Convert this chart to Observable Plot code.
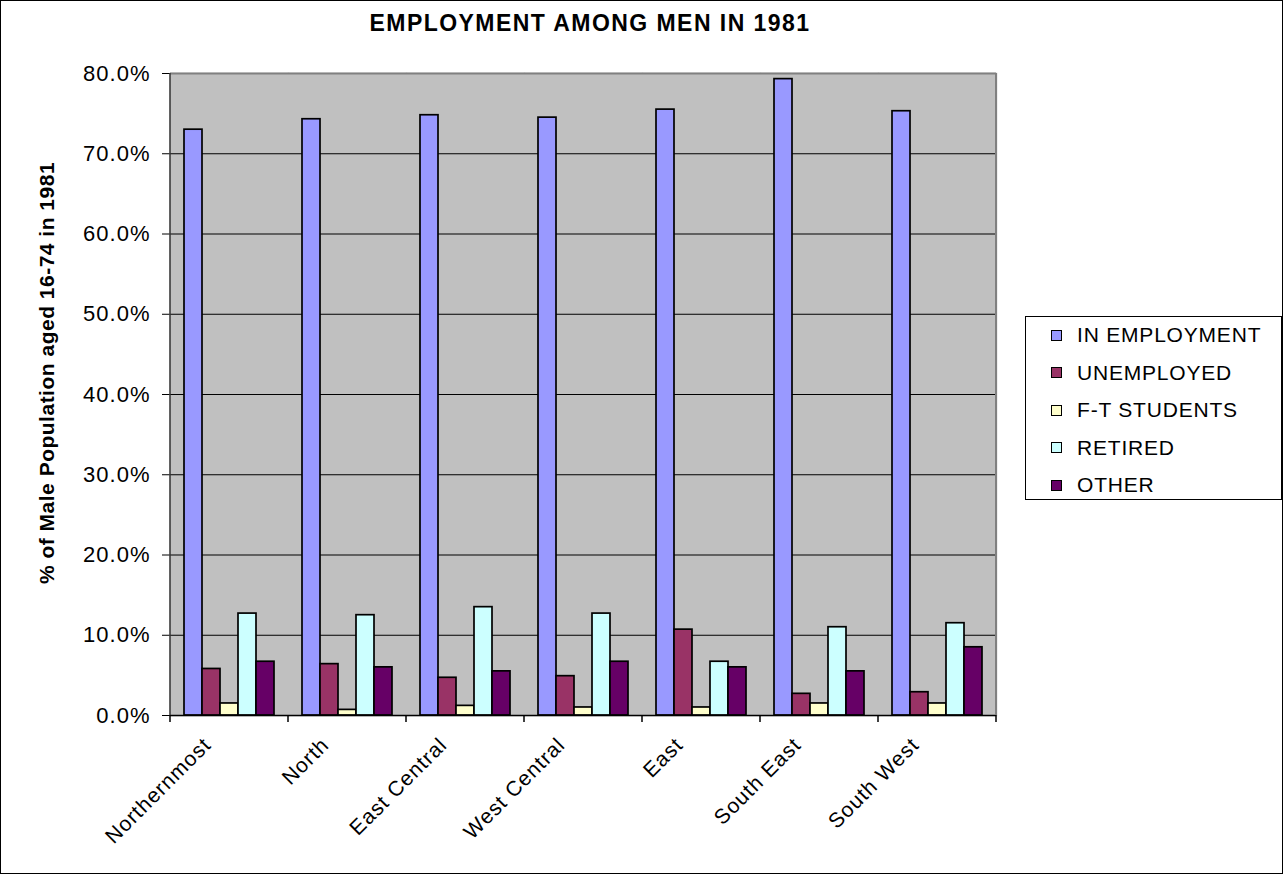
<!DOCTYPE html>
<html><head><meta charset="utf-8">
<script src="https://cdn.jsdelivr.net/npm/d3@7"></script>
<script src="https://cdn.jsdelivr.net/npm/@observablehq/plot@0.6"></script>
<style>
body{margin:0;background:#fff;font-family:Arial,"Liberation Sans",sans-serif;}
#wrap{position:relative;width:1284px;height:875px;overflow:hidden;background:#fff;}
#border{position:absolute;left:0;top:0;width:1283px;height:874px;border:1px solid #000;box-sizing:border-box;pointer-events:none;}
#title{position:absolute;left:0;width:1180px;top:12px;text-align:center;font-weight:bold;font-size:23px;line-height:23px;letter-spacing:1.45px;white-space:nowrap;}
#ylabel{position:absolute;left:47px;top:373px;transform:translate(-50%,-50%) rotate(-90deg);font-weight:bold;font-size:21px;letter-spacing:0.5px;white-space:nowrap;}
#chart{position:absolute;left:0;top:0;}
#legend{position:absolute;left:1025px;top:316px;width:257px;height:184px;border:1px solid #000;box-sizing:border-box;background:#fff;}
.item{position:absolute;left:25px;height:24px;display:flex;align-items:center;font-size:21px;letter-spacing:0.8px;white-space:nowrap;}
.sw{width:9px;height:9px;border:1px solid #000;margin-right:15px;}
</style></head>
<body>
<div id="wrap">
  <div id="chart"></div>
  <div id="title"></div>
  <div id="ylabel"></div>
  <div id="legend"></div>
  <div id="border"></div>
</div>
<script>
const titleText = "EMPLOYMENT AMONG MEN IN 1981";
const yLabelText = "% of Male Population aged 16-74 in 1981";
const regions = ["Northernmost","North","East Central","West Central","East","South East","South West"];
const seriesNames = ["IN EMPLOYMENT","UNEMPLOYED","F-T STUDENTS","RETIRED","OTHER"];
const seriesColors = ["#9999FF","#993366","#FFFFCC","#CCFFFF","#660066"];
const inEmployment = [73.0, 74.3, 74.8, 74.5, 75.5, 79.3, 75.3];
const unemployed   = [5.8, 6.4, 4.7, 4.9, 10.7, 2.7, 2.9];
const ftStudents   = [1.5, 0.7, 1.2, 1.0, 1.0, 1.5, 1.5];
const retired      = [12.7, 12.5, 13.5, 12.7, 6.7, 11.0, 11.5];
const other        = [6.7, 6.0, 5.5, 6.7, 6.0, 5.5, 8.5];
const yTicks = [0,10,20,30,40,50,60,70,80];
const gridTicks = [10,20,30,40,50,60,70];

const seriesValues = [inEmployment, unemployed, ftStudents, retired, other];
const table = [];
regions.forEach((r, i) => seriesNames.forEach((s, j) => table.push({region: r, series: s, value: seriesValues[j][i]})));

document.getElementById("title").textContent = titleText;
document.getElementById("ylabel").textContent = yLabelText;

const legend = document.getElementById("legend");
const rowCenters = [18, 55.5, 93, 130.5, 168];
seriesNames.forEach((s, j) => {
  const it = document.createElement("div");
  it.className = "item";
  it.style.top = (rowCenters[j] - 12) + "px";
  const sw = document.createElement("div");
  sw.className = "sw";
  sw.style.background = seriesColors[j];
  const t = document.createElement("span");
  t.textContent = s;
  it.appendChild(sw); it.appendChild(t);
  legend.appendChild(it);
});

const plot = Plot.plot({
  width: 1010,
  height: 875,
  marginLeft: 170,
  marginRight: 14,
  marginTop: 73,
  marginBottom: 160,
  style: {fontFamily: "Arial, 'Liberation Sans', sans-serif", fontSize: "22px", letterSpacing: "1px", color: "#000", background: "transparent"},
  fx: {domain: regions, padding: 0, axis: null},
  x: {domain: seriesNames, paddingInner: 0, paddingOuter: 0.655, axis: null},
  y: {domain: [0, 80], ticks: yTicks, tickFormat: d => d.toFixed(1) + "%", tickSize: 8, tickPadding: 12, line: true, label: null},
  color: {domain: seriesNames, range: seriesColors},
  marks: [
    Plot.frame({fill: "#C0C0C0", stroke: "#C0C0C0", strokeWidth: 1.5}),
    Plot.ruleY(gridTicks, {stroke: "#000", strokeWidth: 1}),
    Plot.ruleY([80], {stroke: "#808080", strokeWidth: 2}),
    Plot.barY(table, {fx: "region", x: "series", y: "value", fill: "series", stroke: "#000", strokeWidth: 1.7}),
    Plot.ruleY([0], {stroke: "#000", strokeWidth: 1.5}),
    Plot.text(regions, {fx: d => d, text: d => d, frameAnchor: "bottom", rotate: -45, textAnchor: "end", lineAnchor: "middle", dx: -22, dy: 26, fontSize: 21})
  ]
});
document.getElementById("chart").appendChild(plot);

// category boundary ticks and right border, positioned with Plot's own scales
const fx = plot.scale("fx");
const ys = plot.scale("y");
const y0 = ys.apply(0), y80 = ys.apply(80);
const bounds = regions.map(r => fx.apply(r));
bounds.push(fx.apply(regions[regions.length - 1]) + fx.bandwidth);
const g = d3.select(plot).append("g");
g.selectAll("line.t").data(bounds).join("line")
  .attr("x1", d => d).attr("x2", d => d).attr("y1", y0).attr("y2", y0 + 7)
  .attr("stroke", "#000").attr("stroke-width", 1.5);
g.append("line")
  .attr("x1", bounds[bounds.length - 1]).attr("x2", bounds[bounds.length - 1])
  .attr("y1", y80).attr("y2", y0).attr("stroke", "#808080").attr("stroke-width", 2);
g.append("line")
  .attr("x1", bounds[0]).attr("x2", bounds[0])
  .attr("y1", y80).attr("y2", y0).attr("stroke", "#333").attr("stroke-width", 1.5);
</script>
</body></html>
